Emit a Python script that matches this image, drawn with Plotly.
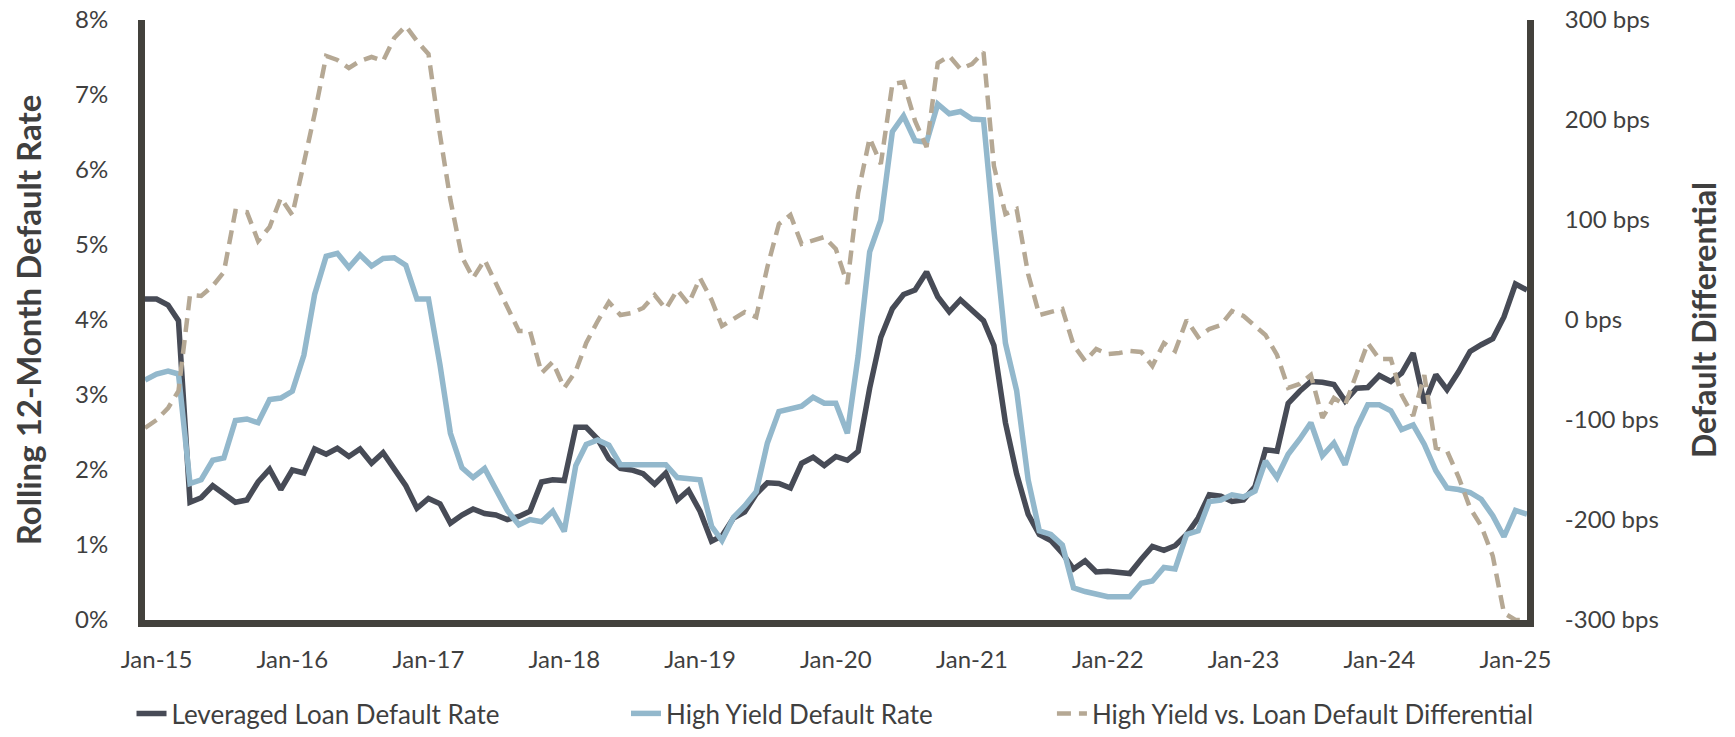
import pandas as pd
import plotly.graph_objects as go

# Monthly observations, Dec-2014 through Feb-2025
months = pd.date_range("2014-12-01", periods=123, freq="MS")

# Leveraged loan rolling 12-month default rate (%)
loan_rate = [
    4.28, 4.28, 4.20, 3.99, 1.57, 1.63, 1.79, 1.68, 1.57, 1.60, 1.84, 2.01,
    1.74, 2.00, 1.96, 2.28, 2.21, 2.29, 2.18, 2.28, 2.09, 2.23, 2.01, 1.79,
    1.49, 1.62, 1.55, 1.29, 1.40, 1.48, 1.42, 1.40, 1.34, 1.38, 1.45, 1.84,
    1.87, 1.86, 2.57, 2.57, 2.41, 2.15, 2.02, 2.00, 1.95, 1.81, 1.96, 1.60,
    1.73, 1.45, 1.05, 1.12, 1.36, 1.44, 1.68, 1.83, 1.82, 1.76, 2.09, 2.17,
    2.06, 2.18, 2.13, 2.25, 3.09, 3.77, 4.15, 4.34, 4.40, 4.64, 4.31, 4.11,
    4.27, 4.12, 3.99, 3.66, 2.63, 1.95, 1.41, 1.14, 1.06, 0.89, 0.68, 0.79,
    0.64, 0.65, 0.64, 0.62, 0.81, 0.98, 0.93, 0.99, 1.14, 1.36, 1.67, 1.65,
    1.58, 1.60, 1.78, 2.27, 2.25, 2.89, 3.05, 3.18, 3.17, 3.14, 2.92, 3.09,
    3.10, 3.26, 3.18, 3.29, 3.56, 2.89, 3.27, 3.07, 3.31, 3.58, 3.67, 3.75,
    4.04, 4.48, 4.40,
]

# High yield rolling 12-month default rate (%)
hy_rate = [
    3.20, 3.28, 3.32, 3.28, 1.82, 1.87, 2.13, 2.16, 2.66, 2.68, 2.63, 2.94,
    2.96, 3.05, 3.53, 4.34, 4.85, 4.89, 4.70, 4.87, 4.72, 4.82, 4.83, 4.73,
    4.28, 4.28, 3.40, 2.49, 2.03, 1.90, 2.02, 1.76, 1.46, 1.27, 1.34, 1.31,
    1.45, 1.18, 2.06, 2.34, 2.40, 2.33, 2.07, 2.07, 2.07, 2.06, 2.07, 1.90,
    1.89, 1.87, 1.25, 1.06, 1.37, 1.52, 1.71, 2.36, 2.78, 2.81, 2.85, 2.97,
    2.89, 2.89, 2.49, 3.52, 4.91, 5.33, 6.51, 6.72, 6.39, 6.37, 6.88, 6.75,
    6.78, 6.68, 6.67, 5.20, 3.69, 3.06, 1.87, 1.19, 1.14, 1.00, 0.43, 0.38,
    0.35, 0.31, 0.31, 0.31, 0.49, 0.52, 0.70, 0.68, 1.14, 1.19, 1.58, 1.60,
    1.67, 1.64, 1.72, 2.12, 1.90, 2.21, 2.41, 2.63, 2.19, 2.36, 2.07, 2.56,
    2.87, 2.87, 2.79, 2.54, 2.60, 2.34, 1.99, 1.76, 1.74, 1.70, 1.61, 1.39,
    1.11, 1.46, 1.41,
]

# High yield minus loan default rate (bps)
diff_bps = [
    -108, -100, -88, -71, 25, 24, 34, 48, 109, 108, 79, 93,
    122, 105, 157, 206, 264, 260, 252, 259, 263, 259, 282, 294,
    279, 266, 185, 120, 63, 42, 60, 36, 12, -11, -11, -53,
    -42, -68, -51, -23, -1, 18, 5, 7, 12, 25, 11, 30,
    16, 42, 20, -6, 1, 8, 3, 53, 96, 105, 76, 80,
    83, 71, 36, 127, 182, 156, 236, 238, 199, 173, 257, 264,
    251, 256, 268, 154, 106, 111, 46, 5, 8, 11, -25, -41,
    -29, -34, -33, -31, -32, -46, -23, -31, 0, -17, -9, -5,
    9, 4, -6, -15, -35, -68, -64, -55, -98, -78, -85, -53,
    -23, -39, -39, -75, -96, -55, -128, -131, -157, -188, -206, -236,
    -293, -300, -300,
]

pct_ticks = [0, 1, 2, 3, 4, 5, 6, 7, 8]
pct_labels = ["0%", "1%", "2%", "3%", "4%", "5%", "6%", "7%", "8%"]
bps_ticks = [-300, -200, -100, 0, 100, 200, 300]
bps_labels = ["-300 bps", "-200 bps", "-100 bps", "0 bps",
              "100 bps", "200 bps", "300 bps"]
year_ticks = pd.date_range("2015-01-01", "2025-01-01", freq="YS")

FONT = "Lato"
TEXT = "#3f3f3f"
AXIS = "#43413c"

fig = go.Figure()
fig.add_trace(go.Scatter(
    x=months, y=loan_rate, name="Leveraged Loan Default Rate", mode="lines",
    line=dict(color="#474b56", width=5.5), legend="legend",
))
fig.add_trace(go.Scatter(
    x=months, y=hy_rate, name="High Yield Default Rate", mode="lines",
    line=dict(color="#93b8cc", width=5.5), legend="legend2",
))
fig.add_trace(go.Scatter(
    x=months, y=diff_bps, name="High Yield vs. Loan Default Differential",
    mode="lines", yaxis="y2",
    line=dict(color="#b5a894", width=4.5, dash="14px,8px"), legend="legend3",
))

legend_common = dict(
    orientation="h", xref="container", yref="container",
    yanchor="bottom", y=-0.009, xanchor="left",
    font=dict(family=FONT, size=26, color=TEXT), bgcolor="rgba(0,0,0,0)",
    itemwidth=30,
)

tick_font = dict(family=FONT, size=24, color=TEXT)
title_font = dict(family=FONT, size=32, color=TEXT)

fig.update_layout(
    width=1735, height=737,
    margin=dict(l=145, r=208, t=20, b=117, autoexpand=False),
    paper_bgcolor="white", plot_bgcolor="white",
    font=dict(family=FONT, color=TEXT),
    showlegend=True,
    legend=dict(x=0.0758, **legend_common),
    legend2=dict(x=0.3608, **legend_common),
    legend3=dict(x=0.6063, **legend_common),
    xaxis=dict(
        type="date", range=[months[0], months[-1]],
        tickvals=year_ticks, tickformat="%b-%y",
        showgrid=False, zeroline=False, automargin=False,
        showline=True, linecolor=AXIS, linewidth=7,
        ticks="", ticklabelstandoff=12, tickfont=tick_font,
    ),
    yaxis=dict(
        range=[0, 8], tickmode="array", tickvals=pct_ticks, ticktext=pct_labels,
        showgrid=False, zeroline=False, automargin=False,
        showline=True, linecolor=AXIS, linewidth=7,
        ticks="", ticklabelstandoff=25, tickfont=tick_font,
        title=dict(text="<b>Rolling 12-Month Default Rate</b>", standoff=26,
                   font=dict(family=FONT, size=33, color=TEXT)),
    ),
    yaxis2=dict(
        range=[-300, 300], tickmode="array", tickvals=bps_ticks,
        ticktext=bps_labels, overlaying="y", side="right",
        showgrid=False, zeroline=False, automargin=False,
        showline=True, linecolor=AXIS, linewidth=7,
        ticks="", ticklabelstandoff=26, tickfont=tick_font,
        title=dict(text="<b>Default Differential</b>", standoff=38,
                   font=title_font),
    ),
)

fig.write_html("out.html")
